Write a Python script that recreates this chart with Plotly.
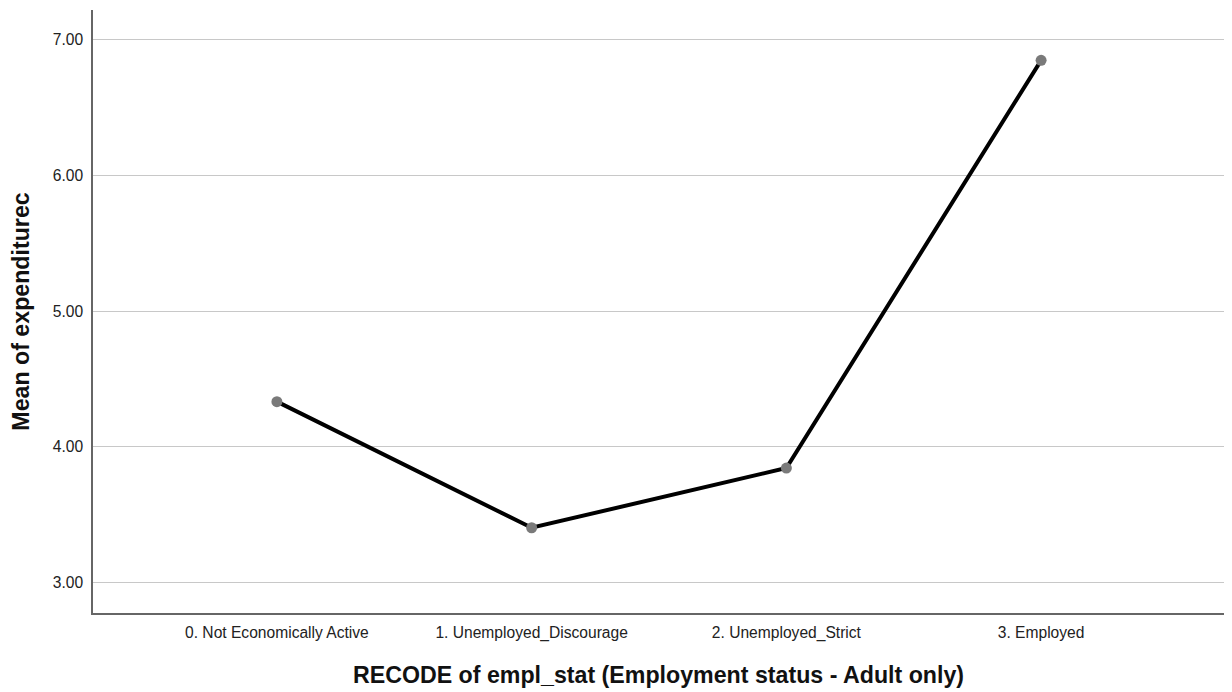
import plotly.graph_objects as go

categories = ["0. Not Economically Active", "1. Unemployed_Discourage",
              "2. Unemployed_Strict", "3. Employed"]
mean_values = [4.334, 3.405, 3.845, 6.848]
y_ticks = [3, 4, 5, 6, 7]
y_tick_labels = ["3.00", "4.00", "5.00", "6.00", "7.00"]

FONT = "Liberation Sans, Arial, sans-serif"

fig = go.Figure()
fig.add_trace(go.Scatter(
    x=categories, y=mean_values, mode="lines+markers",
    line=dict(color="black", width=4),
    marker=dict(color="#7a7a7a", size=11),
    showlegend=False, cliponaxis=False,
))

fig.update_layout(
    width=1224, height=684,
    margin=dict(l=85, r=8, t=2, b=79, autoexpand=False),
    paper_bgcolor="white", plot_bgcolor="white",
    font=dict(family=FONT, color="#222222", size=15.5),
    xaxis=dict(
        type="category", range=[-0.722, 3.718], automargin=False,
        showgrid=False, showline=True, linecolor="#666666", linewidth=1.5,
        ticks="", tickfont=dict(size=15.6, color="#222222"),
        ticklabelstandoff=5,
        title=dict(text="<b>RECODE of empl_stat (Employment status - Adult only)</b>",
                   font=dict(size=23.2, color="#111111"), standoff=25),
        zeroline=False,
    ),
    yaxis=dict(
        range=[2.777, 7.219], tickvals=y_ticks, ticktext=y_tick_labels,
        automargin=False,
        showgrid=True, gridcolor="#c8c8c8", gridwidth=1,
        showline=True, linecolor="#666666", linewidth=1.5,
        ticks="", tickfont=dict(size=15.6, color="#222222"),
        ticklabelstandoff=5,
        title=dict(text="<b>Mean of expenditurec</b>",
                   font=dict(size=23.2, color="#111111"), standoff=20),
        zeroline=False,
    ),
)

fig.write_html("out.html")
